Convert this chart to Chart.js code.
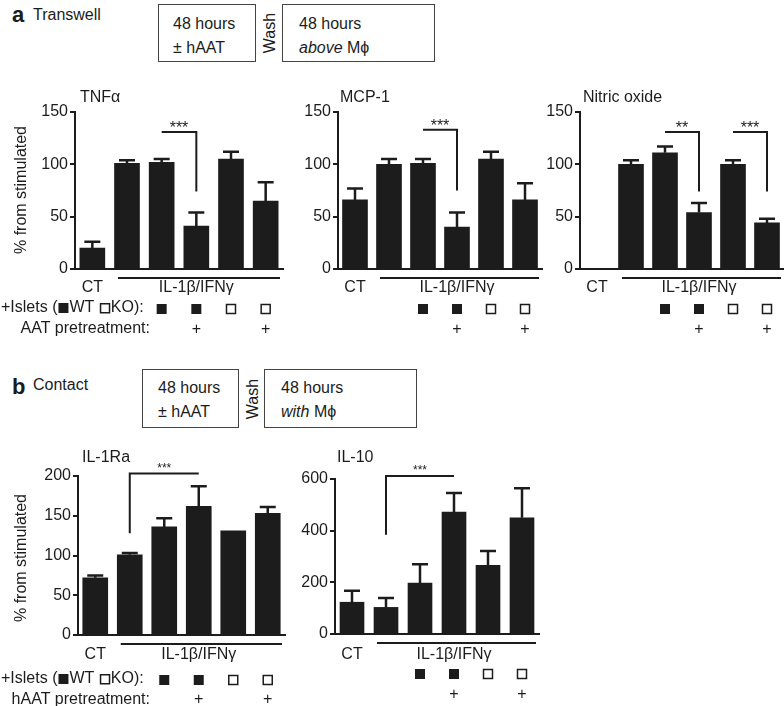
<!DOCTYPE html>
<html>
<head>
<meta charset="utf-8">
<script src="https://cdn.jsdelivr.net/npm/chart.js@4.4.1/dist/chart.umd.min.js"></script>
<style>
  html, body { margin: 0; padding: 0; background: #fff; }
  body { width: 784px; height: 706px; position: relative; overflow: hidden;
         font-family: 'Liberation Sans', Arial, Helvetica, sans-serif; color: #1c1c1c; }
  canvas { position: absolute; }
  .t { position: absolute; white-space: nowrap; font-size: 16px; line-height: 20px; }
  .box { position: absolute; border: 1.5px solid #444; box-sizing: border-box;
         font-size: 16px; line-height: 24px; padding: 7px 0 0 14px; }
  .wash { position: absolute; font-size: 16px; line-height: 18px; transform: translate(-50%, -50%) rotate(-90deg); white-space: nowrap; }
</style>
</head>
<body>
<!-- panel a header -->
<div class="t" style="left:12px; top:2px; font-size:22px; line-height:26px; font-weight:bold;">a</div>
<div class="t" style="left:33px; top:5px;">Transwell</div>
<div class="box" style="left:158px; top:4px; width:98px; height:58px;">48 hours<br>± hAAT</div>
<div class="wash" style="left:270px; top:33px;">Wash</div>
<div class="box" style="left:282px; top:4px; width:153px; height:58px; padding-left:16px;">48 hours<br><i>above</i> Mϕ</div>
<!-- panel b header -->
<div class="t" style="left:12px; top:374px; font-size:22px; line-height:26px; font-weight:bold;">b</div>
<div class="t" style="left:33px; top:375px;">Contact</div>
<div class="box" style="left:142px; top:369px; width:97px; height:59px; padding-top:6px; padding-left:15px;">48 hours<br>± hAAT</div>
<div class="wash" style="left:253px; top:399px;">Wash</div>
<div class="box" style="left:264px; top:369px; width:153px; height:59px; padding-top:6px; padding-left:16px;">48 hours<br><i>with</i> Mϕ</div>

<canvas id="tnf"></canvas>
<canvas id="mcp"></canvas>
<canvas id="no"></canvas>
<canvas id="il1ra"></canvas>
<canvas id="il10"></canvas>

<script>
// ---------------- data ----------------
const groups = ['CT', 'IL-1β/IFNγ', 'WT islets', 'WT islets + hAAT', 'KO islets', 'KO islets + hAAT'];
const isletType = [null, null, 'WT', 'WT', 'KO', 'KO'];
const pretreated = [false, false, false, true, false, true];

const tnfMean  = [20, 101, 102, 41, 105, 65];
const tnfUpper = [26, 104, 105, 54, 112, 83];
const mcpMean  = [66, 100, 101, 40, 105, 66];
const mcpUpper = [77, 105, 105, 54, 112, 82];
const noMean   = [null, 100, 111, 54, 100, 44];
const noUpper  = [null, 104, 117, 63, 104, 48];
const il1raMean  = [72, 101, 136, 162, 131, 153];
const il1raUpper = [75, 103, 147, 187, null, 161];
const il10Mean  = [123, 103, 197, 472, 266, 450];
const il10Upper = [167, 139, 270, 546, 321, 564];

const tnfSig   = [{ from: 2, to: 3, y: 131, toDrop: 74, label: '***' }];
const mcpSig   = [{ from: 2, to: 3, y: 133, toDrop: 75, label: '***' }];
const noSig    = [{ from: 2, to: 3, y: 131, toDrop: 74, label: '**' },
                  { from: 4, to: 5, y: 131, toDrop: 74, label: '***' }];
const il1raSig = [{ from: 1, to: 3, y: 203, fromDrop: 128, label: '***' }];
const il10Sig  = [{ from: 1, to: 3, y: 612, fromDrop: 384, label: '***' }];

const ticksA = [0, 50, 100, 150];
const ticksIL1ra = [0, 50, 100, 150, 200];
const ticksIL10 = [0, 200, 400, 600];

// ---------------- style ----------------
const FONT = "'Liberation Sans', Arial, Helvetica, sans-serif";
const INK = '#1c1c1c';
const YW = 40;

const panelA = { labelY: 288, lineY: 278, sqY: 309, plusY: 330, titleY: 98, starSize: 16, starDy: 1.5,
                 rowY1: 308, rowY2: 329, pretreatText: 'AAT pretreatment:', yTitleY: 190 };
const panelB = { labelY: 655, lineY: 644, sqY: 680, plusY: 700, titleY: 458, starSize: 12, starDy: -2,
                 rowY1: 679, rowY2: 700, pretreatText: 'hAAT pretreatment:', yTitleY: 558 };

const defs = [
  { id: 'tnf', region: [0, 85, 300, 260], area: [75, 112, 283, 269], title: 'TNFα', titleX: 80,
    mean: tnfMean, upper: tnfUpper, ticks: ticksA, sig: tnfSig, p: panelA, rows: true, barW: 25 },
  { id: 'mcp', region: [292, 85, 268, 260], area: [338, 112, 542, 269], title: 'MCP-1', titleX: 340,
    mean: mcpMean, upper: mcpUpper, ticks: ticksA, sig: mcpSig, p: panelA, rows: false, barW: 25 },
  { id: 'no', region: [535, 85, 249, 260], area: [580, 112, 784, 269], title: 'Nitric oxide', titleX: 583,
    mean: noMean, upper: noUpper, ticks: ticksA, sig: noSig, p: panelA, rows: false, barW: 25 },
  { id: 'il1ra', region: [0, 440, 300, 266], area: [78, 476, 285, 635], title: 'IL-1Ra', titleX: 82,
    mean: il1raMean, upper: il1raUpper, ticks: ticksIL1ra, sig: il1raSig, p: panelB, rows: true, barW: 25 },
  { id: 'il10', region: [290, 440, 270, 266], area: [335, 479, 539, 634], title: 'IL-10', titleX: 337,
    mean: il10Mean, upper: il10Upper, ticks: ticksIL10, sig: il10Sig,
    p: Object.assign({}, panelB, { lineY: 643, sqY: 674, plusY: 695 }), rows: false, barW: 24 }
];

function annot(c) {
  const ox = c.region[0], oy = c.region[1];
  return {
    id: 'annot_' + c.id,
    afterDatasetsDraw(chart) {
      const ctx = chart.ctx, xs = chart.scales.x, ys = chart.scales.y;
      const bx = i => xs.getPixelForValue(i);
      const text = (s, x, y, size, align, base) => {
        ctx.font = (size || 16) + 'px ' + FONT;
        ctx.textAlign = align || 'center';
        ctx.textBaseline = base || 'middle';
        ctx.fillText(s, x, y);
        return ctx.measureText(s).width;
      };
      ctx.save();
      ctx.strokeStyle = INK; ctx.fillStyle = INK;
      // error bars
      ctx.lineWidth = 2.5;
      c.mean.forEach((m, i) => {
        const u = c.upper[i];
        if (m == null || u == null) return;
        const x = bx(i), y0 = ys.getPixelForValue(m), y1 = ys.getPixelForValue(u);
        ctx.beginPath();
        ctx.moveTo(x, y0); ctx.lineTo(x, y1);
        ctx.moveTo(x - 8, y1); ctx.lineTo(x + 8, y1);
        ctx.stroke();
      });
      // significance brackets
      ctx.lineWidth = 2;
      c.sig.forEach(s => {
        const x1 = bx(s.from), x2 = bx(s.to), yl = ys.getPixelForValue(s.y);
        const yf = s.fromDrop != null ? ys.getPixelForValue(s.fromDrop) : yl;
        const yt = s.toDrop != null ? ys.getPixelForValue(s.toDrop) : yl;
        ctx.beginPath();
        ctx.moveTo(x1, yf); ctx.lineTo(x1, yl); ctx.lineTo(x2, yl); ctx.lineTo(x2, yt);
        ctx.stroke();
        text(s.label, (x1 + x2) / 2, yl + c.p.starDy, c.p.starSize, 'center', 'alphabetic');
      });
      // title
      text(c.title, c.titleX - ox, c.p.titleY - oy, 16, 'left');
      // x group labels
      text(groups[0], bx(0), c.p.labelY - oy);
      ctx.lineWidth = 2;
      ctx.beginPath();
      ctx.moveTo(bx(1) - 9, c.p.lineY - oy);
      ctx.lineTo(xs.right - 3, c.p.lineY - oy);
      ctx.stroke();
      text(groups[1], (bx(1) + bx(5)) / 2, c.p.labelY - oy);
      // islet markers and pretreatment
      ctx.lineWidth = 1.5;
      isletType.forEach((t, i) => {
        if (!t) return;
        const x = bx(i), y = c.p.sqY - oy;
        if (t === 'WT') ctx.fillRect(x - 5, y - 5, 10, 10);
        else ctx.strokeRect(x - 4.5, y - 4.5, 9, 9);
        if (pretreated[i]) text('+', x, c.p.plusY - oy, 16);
      });
      if (c.rows) {
        // "+Islets (■WT □KO):" with drawn squares
        let x = 1 - ox;
        const y = c.p.rowY1 - oy;
        x += text('+Islets (', x, y, 16, 'left') + 1;
        ctx.fillRect(x, y - 5, 10, 10); x += 11;
        x += text('WT ', x, y, 16, 'left') + 1;
        ctx.strokeRect(x + 0.75, y - 4.25, 9, 9); x += 11;
        text('KO):', x, y, 16, 'left');
        text(c.p.pretreatText, 150 - ox, c.p.rowY2 - oy, 16, 'right');
        ctx.save();
        ctx.translate(22 - ox, c.p.yTitleY - oy);
        ctx.rotate(-Math.PI / 2);
        text('% from stimulated', 0, 0, 16);
        ctx.restore();
      }
      ctx.restore();
    }
  };
}

defs.forEach(c => {
  const [rx, ry, rw, rh] = c.region;
  const [L, T, R, B] = c.area;
  const cv = document.getElementById(c.id);
  cv.width = rw; cv.height = rh;
  cv.style.left = rx + 'px'; cv.style.top = ry + 'px';
  cv.style.width = rw + 'px'; cv.style.height = rh + 'px';
  new Chart(cv, {
    type: 'bar',
    data: {
      labels: groups,
      datasets: [{ data: c.mean, backgroundColor: INK, borderWidth: 0, barThickness: c.barW }]
    },
    options: {
      responsive: false,
      animation: false,
      devicePixelRatio: window.devicePixelRatio || 1,
      layout: { padding: { left: L - rx - YW, top: T - ry, right: rx + rw - R, bottom: ry + rh - B } },
      plugins: { legend: { display: false }, tooltip: { enabled: false }, title: { display: false } },
      scales: {
        x: {
          type: 'category', offset: true,
          grid: { display: false },
          ticks: { display: false },
          border: { display: true, color: INK, width: 2 },
          afterFit: s => { s.height = 0; }
        },
        y: {
          min: c.ticks[0], max: c.ticks[c.ticks.length - 1],
          afterBuildTicks: s => { s.ticks = c.ticks.map(v => ({ value: v })); },
          grid: { display: true, drawOnChartArea: false, drawTicks: true, tickLength: 5, color: INK, lineWidth: 2 },
          border: { display: true, color: INK, width: 2 },
          ticks: { color: INK, padding: 2, font: { size: 16, family: FONT } },
          afterFit: s => { s.width = YW; }
        }
      }
    },
    plugins: [annot(c)]
  });
});
</script>
</body>
</html>
